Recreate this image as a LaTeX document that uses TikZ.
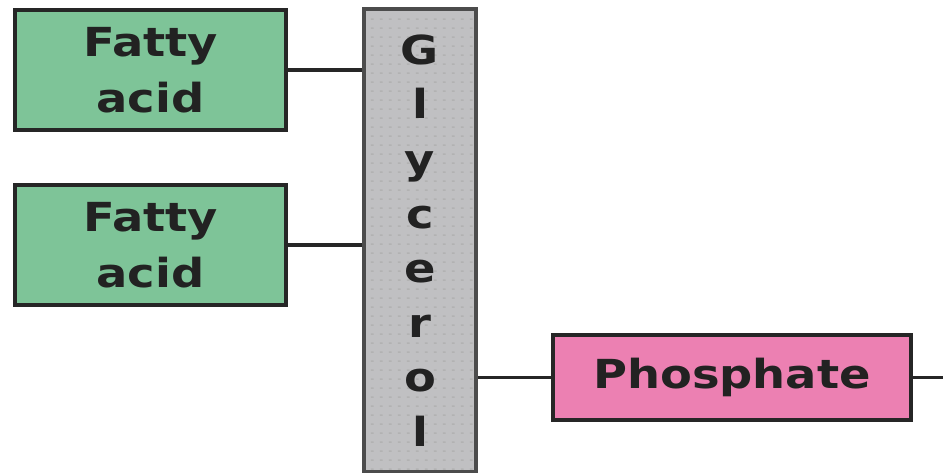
\documentclass[tikz,border=0pt]{standalone}
\usepackage{fontspec}
\usetikzlibrary{patterns.meta}
\newfontfamily\labfont[FakeStretch=1.16]{DejaVu Sans Bold}
\definecolor{fagreen}{RGB}{126,196,152}
\definecolor{phpink}{RGB}{236,128,178}
\definecolor{glgray}{RGB}{192,192,194}
\definecolor{txtdark}{RGB}{34,34,34}
\pgfdeclarepattern{
  name=gldots,
  type=uncolored,
  bottom left={\pgfqpoint{0pt}{0pt}},
  top right={\pgfqpoint{9pt}{9pt}},
  tile size={\pgfqpoint{9pt}{9pt}},
  code={\pgfpathrectangle{\pgfqpoint{2pt}{3.5pt}}{\pgfqpoint{3pt}{1.6pt}}\pgfusepath{fill}}
}
\begin{document}
\begin{tikzpicture}[x=1pt,y=-1pt,
  fabox/.style={draw=black!85, line width=3.5pt, fill=fagreen, minimum width=271pt, minimum height=120pt, inner sep=0pt, align=center, text=txtdark, font=\labfont\fontsize{40}{56}\selectfont},
  glbox/.style={preaction={fill=glgray}, pattern=gldots, pattern color=black!30, draw=black!70, line width=4pt, minimum width=112pt, minimum height=463pt, inner sep=0pt, align=center, text=txtdark, font=\labfont\fontsize{40}{54.6}\selectfont},
  phbox/.style={draw=black!85, line width=3.5pt, fill=phpink, minimum width=358pt, minimum height=85pt, inner sep=0pt, text=txtdark, font=\labfont\fontsize{40}{50}\selectfont},
  link/.style={draw=black!85, line width=3.5pt}]
\useasboundingbox (0,0) rectangle (943,473);
\node[fabox] (fa1) at (150.5,70) {Fatty\\acid};
\node[fabox] (fa2) at (150.5,245) {Fatty\\acid};
\node[glbox] (gly) at (420,240.5) {G\\l\\y\\c\\e\\r\\o\\l};
\node[phbox] (phos) at (732,377.5) {Phosphate};
\coordinate (tail) at (943,377.5);
\draw[link] (fa1.east) -- (fa1.east -| gly.west);
\draw[link] (fa2.east) -- (fa2.east -| gly.west);
\draw[link] (phos.west) -- (phos.west -| gly.east);
\draw[link] (phos.east) -- (tail);
\end{tikzpicture}
\end{document}
